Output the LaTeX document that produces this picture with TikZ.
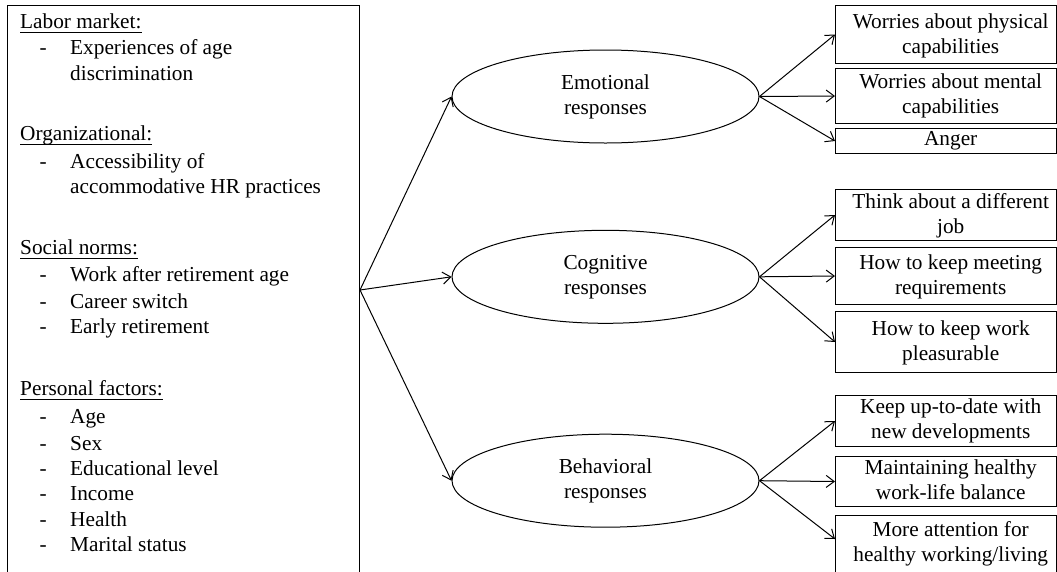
\documentclass[tikz,border=0pt]{standalone}
\usepackage{fontspec}
\setmainfont{Liberation Serif}
\usetikzlibrary{shapes.geometric,arrows.meta}
\newcommand\myfs{\fontsize{21.3}{25}\selectfont}
\begin{document}
\begin{tikzpicture}[x=1pt,y=-1pt,
  txt/.style={inner sep=0pt,font=\myfs,anchor=base west},
  ctxt/.style={inner sep=0pt,font=\myfs,anchor=base,align=center},
  rbox/.style={draw,line width=1pt,inner sep=0pt,minimum width=221pt,anchor=north west},
  ell/.style={draw,ellipse,line width=1pt,inner sep=0pt,minimum width=307pt,minimum height=93pt,font=\myfs,align=center},
  arr/.style={line width=1pt,-{Straight Barb[length=8pt,width=12pt]}},
  uline/.style={line width=0.9pt}]
\useasboundingbox (0,0) rectangle (1057,571);
\clip (0,0) rectangle (1057,571);

% left box
\node[draw,line width=1pt,inner sep=0pt,minimum width=352pt,minimum height=569pt,anchor=north west] (L) at (7,5) {};

\node[txt] (h1) at (20,28.3) {Labor market:};
\node[txt] (d1) at (39.5,54) {-};
\node[txt] (i1) at (70,54) {Experiences of age};
\node[txt] (i1b) at (70,80) {discrimination};

\node[txt] (h2) at (20,140) {Organizational:};
\node[txt] (d2) at (39.5,168) {-};
\node[txt] (i2) at (70,168) {Accessibility of};
\node[txt] (i2b) at (70,193.3) {accommodative HR practices};

\node[txt] (h3) at (20,254) {Social norms:};
\node[txt] (d3) at (39.5,281) {-};
\node[txt] (i3) at (70,281) {Work after retirement age};
\node[txt] (d4) at (39.5,308) {-};
\node[txt] (i4) at (70,308) {Career switch};
\node[txt] (d5) at (39.5,333.3) {-};
\node[txt] (i5) at (70,333.3) {Early retirement};

\node[txt] (h4) at (20,395) {Personal factors:};
\node[txt] (d6) at (39.5,423.3) {-};
\node[txt] (i6) at (70,423.3) {Age};
\node[txt] (d7) at (39.5,450) {-};
\node[txt] (i7) at (70,450) {Sex};
\node[txt] (d8) at (39.5,475) {-};
\node[txt] (i8) at (70,475) {Educational level};
\node[txt] (d9) at (39.5,500.7) {-};
\node[txt] (i9) at (70,500.7) {Income};
\node[txt] (d10) at (39.5,526.7) {-};
\node[txt] (i10) at (70,526.7) {Health};
\node[txt] (d11) at (39.5,551.7) {-};
\node[txt] (i11) at (70,551.7) {Marital status};

\foreach \h in {h1,h2,h3,h4}
  \draw[uline] ([yshift=-4pt]\h.base west) -- ([yshift=-4pt]\h.base east);

% ellipses
\node[ell] (e1) at (605.5,96.5) {Emotional\\responses};
\node[ell] (e2) at (605.5,276.8) {Cognitive\\responses};
\node[ell] (e3) at (605.5,480.7) {Behavioral\\responses};

% right boxes
\node[rbox,minimum height=58pt] (b1) at (835,5) {};
\node[rbox,minimum height=55pt] (b2) at (835,68) {};
\node[rbox,minimum height=25pt] (b3) at (835,128) {};
\node[rbox,minimum height=51pt] (b4) at (835,189) {};
\node[rbox,minimum height=57pt] (b5) at (835,247) {};
\node[rbox,minimum height=61pt] (b6) at (835,311) {};
\node[rbox,minimum height=51pt] (b7) at (835,395) {};
\node[rbox,minimum height=50pt] (b8) at (835,456) {};
\node[rbox,minimum height=80pt] (b9) at (835,515) {};

% text: anchor base = baseline of the last line
\node[ctxt] (t1) at (950.7,53.3) {Worries about physical\\capabilities};
\node[ctxt] (t2) at (950.7,113.3) {Worries about mental\\capabilities};
\node[ctxt] (t3) at (950.7,145.7) {Anger};
\node[ctxt] (t4) at (950.7,233.3) {Think about a different\\job};
\node[ctxt] (t5) at (950.7,294) {How to keep meeting\\requirements};
\node[ctxt] (t6) at (950.7,360) {How to keep work\\pleasurable};
\node[ctxt] (t7) at (950.7,438.3) {Keep up-to-date with\\new developments};
\node[ctxt] (t8) at (950.7,499.3) {Maintaining healthy\\work-life balance};
\node[ctxt] (t9) at (950.7,561.7) {More attention for\\healthy working/living};

% connectors
\draw[arr] (L.east) -- (e1.west);
\draw[arr] (L.east) -- (e2.west);
\draw[arr] (L.east) -- (e3.west);

\draw[arr] (e1.east) -- (b1.west);
\draw[arr] (e1.east) -- (b2.west);
\draw[arr] (e1.east) -- (b3.west);
\draw[arr] (e2.east) -- (b4.west);
\draw[arr] (e2.east) -- (b5.west);
\draw[arr] (e2.east) -- (b6.west);
\draw[arr] (e3.east) -- (b7.west);
\draw[arr] (e3.east) -- (b8.west);
\draw[arr] (e3.east) -- ([yshift=-24pt]b9.north west);
\end{tikzpicture}
\end{document}
